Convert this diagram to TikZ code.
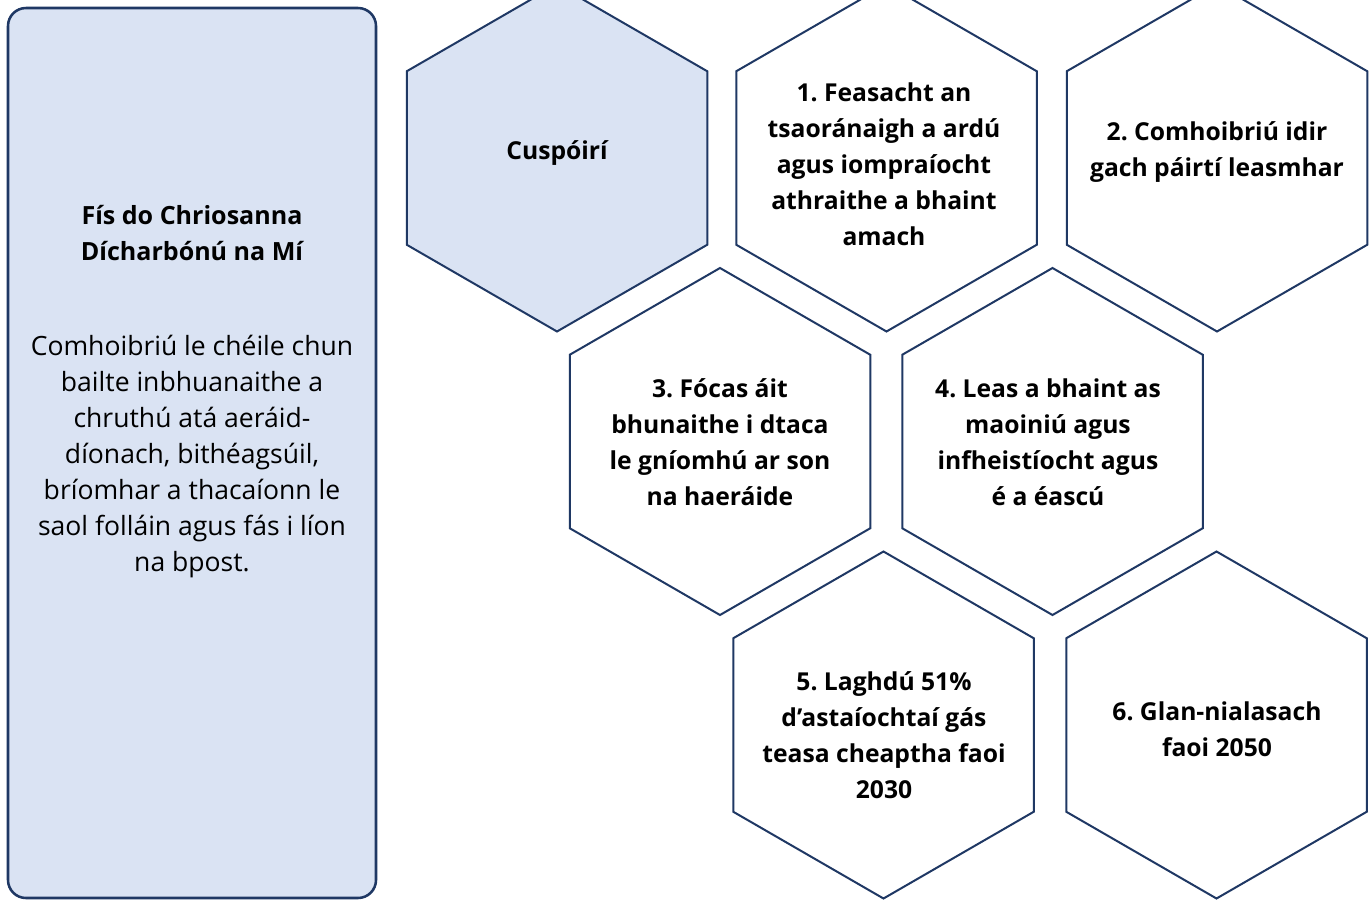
\documentclass[tikz,border=0pt]{standalone}
\usepackage{fontspec}
\setmainfont{Open Sans}
\frenchspacing
\definecolor{navy}{HTML}{1F3864}
\definecolor{paleblue}{HTML}{DAE3F3}
\tikzset{
  hexline/.style={draw=navy, line width=1.5pt, line join=miter},
  hexfilled/.style={hexline, fill=paleblue},
  hextext/.style={align=center, text=black, inner sep=0pt,
    font=\fontsize{18.5pt}{27pt}\selectfont\bfseries},
  sidebox/.style={draw=navy, line width=1.9pt, fill=paleblue, rounded corners=13.5pt},
  sidetitle/.style={align=center, text=black, inner sep=0pt,
    font=\fontsize{18.8pt}{27pt}\selectfont\bfseries},
  sidebody/.style={align=center, text=black, inner sep=0pt,
    font=\fontsize{19.9pt}{27pt}\selectfont},
}
\newcommand\drawhex[3]{%
  \draw[#3, shift={(#1,#2)}] (0,-173.5) -- (150.25,-86.75) -- (150.25,86.75)
    -- (0,173.5) -- (-150.25,86.75) -- (-150.25,-86.75) -- cycle;}
\begin{document}
\begin{tikzpicture}[x=0.75pt,y=-0.75pt]
  \useasboundingbox (0,0) rectangle (1372,900);
  \fill[white] (0,0) rectangle (1372,900);
  \clip (0,0) rectangle (1372,900);
  % left panel
  \draw[sidebox] (8,8) rectangle (376,898);
  \node[sidetitle] (title) at (192,233) {Fís do Chriosanna\\Dícharbónú na Mí};
  \node[sidebody] (vision) at (192,457) {Comhoibriú le chéile chun\\bailte inbhuanaithe a\\chruthú atá aeráid-\\díonach, bithéagsúil,\\bríomhar a thacaíonn le\\saol folláin agus fás i líon\\na bpost.};
  % hexagons
  \drawhex{557}{158}{hexfilled}
  \drawhex{886.5}{158}{hexline}
  \drawhex{1217}{158}{hexline}
  \drawhex{720}{441.5}{hexline}
  \drawhex{1052.5}{441.5}{hexline}
  \drawhex{883.5}{725}{hexline}
  \drawhex{1216.5}{725}{hexline}
  \node[hextext] (h0) at (557,153) {Cuspóirí};
  \node[hextext] (h1) at (884,164) {1. Feasacht an\\tsaoránaigh a ardú\\agus iompraíocht\\athraithe a bhaint\\amach};
  \node[hextext] (h2) at (1217,152) {2. Comhoibriú idir\\gach páirtí leasmhar};
  \node[hextext] (h3) at (720,442) {3. Fócas áit\\bhunaithe i dtaca\\le gníomhú ar son\\na haeráide};
  \node[hextext] (h4) at (1048,442) {4. Leas a bhaint as\\maoiniú agus\\infheistíocht agus\\é a éascú};
  \node[hextext] (h5) at (884,735) {5. Laghdú 51\%\\d’astaíochtaí gás\\teasa cheaptha faoi\\2030};
  \node[hextext] (h6) at (1217,729) {6. Glan-nialasach\\faoi 2050};
\end{tikzpicture}
\end{document}
